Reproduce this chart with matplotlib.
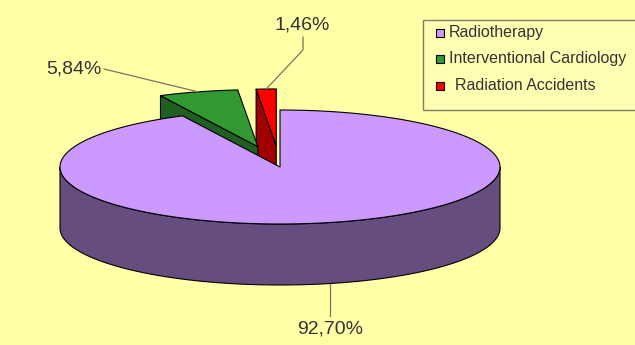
import numpy as np
import matplotlib.pyplot as plt
from matplotlib.patches import Polygon, Rectangle

# Share of each exposure source (%)
categories = ['Radiotherapy', 'Interventional Cardiology', 'Radiation Accidents']
shares = [92.70, 5.84, 1.46]
value_labels = ['92,70%', '5,84%', '1,46%']
explode = [0.0, 0.37, 0.37]

top_colors = ['#CC99FF', '#339933', '#FF0000']
side_colors = ['#664D80', '#1F5F1F', '#A00000']
bg = '#FFFFA8'
text_color = '#333333'

plt.rcParams['font.family'] = ['Liberation Sans', 'DejaVu Sans']

fig = plt.figure(figsize=(6.35, 3.45), dpi=100)
fig.patch.set_facecolor(bg)
ax = fig.add_axes([0, 0, 1, 1])
ax.set_xlim(0, 635)
ax.set_ylim(345, 0)
ax.axis('off')

# 3D pie drawn in pixel space: centre, radii of the top ellipse, thickness
cx, cy = 280, 167
rx, ry = 220, 57
depth = 61


def ellipse_xy(t_deg, off, z=0.0):
    t = np.radians(t_deg)
    return (cx + off[0] + rx * np.cos(t), cy + off[1] - ry * np.sin(t) + z)


# slice angles, clockwise from 12 o'clock
slices = []
start = 90.0
for i, s in enumerate(shares):
    a0 = start
    a1 = start - s * 3.6
    start = a1
    mid = (a0 + a1) / 2
    e = explode[i]
    off = (e * rx * np.cos(np.radians(mid)), -e * ry * np.sin(np.radians(mid)))
    slices.append(dict(i=i, a0=a0, a1=a1, mid=mid, off=off))

# paint back slices first
order = sorted(slices, key=lambda d: -np.sin(np.radians(d['mid'])))

edge_kw = dict(edgecolor='black', linewidth=0.8, joinstyle='round')

for sl in order:
    i, a0, a1, off = sl['i'], sl['a0'], sl['a1'], sl['off']
    apex = (cx + off[0], cy + off[1])

    # radial cut faces facing the viewer
    for a, normal in ((a0, a0 + 90), (a1, a1 - 90)):
        if np.sin(np.radians(normal)) < -1e-6:
            p_top = ellipse_xy(a, off)
            p_bot = ellipse_xy(a, off, depth)
            face = [apex, p_top, p_bot, (apex[0], apex[1] + depth)]
            ax.add_patch(Polygon(face, closed=True, facecolor=side_colors[i], **edge_kw))

    # outer wall, front half only
    t = np.linspace(a1, a0, 600)
    front = np.sin(np.radians(t)) <= 0
    if front.any():
        idx = np.where(front)[0]
        groups = np.split(idx, np.where(np.diff(idx) > 1)[0] + 1)
        for g in groups:
            tt = t[g]
            xs, ys = ellipse_xy(tt, off)
            xb, yb = ellipse_xy(tt[::-1], off, depth)
            wall = np.column_stack([np.concatenate([xs, xb]), np.concatenate([ys, yb])])
            ax.add_patch(Polygon(wall, closed=True, facecolor=side_colors[i], **edge_kw))

    # top face
    t = np.linspace(a1, a0, 600)
    xs, ys = ellipse_xy(t, off)
    top = np.vstack([[apex], np.column_stack([xs, ys])])
    ax.add_patch(Polygon(top, closed=True, facecolor=top_colors[i], **edge_kw))

# value labels with leader lines
line_kw = dict(color='#77775A', linewidth=0.9)
lab_font = dict(fontsize=14, color=text_color)

s0, s1, s2 = slices
# Radiotherapy: from the front bottom edge straight down
px, py = ellipse_xy(s0['mid'], s0['off'], depth)
ax.plot([px, px], [py, 316], **line_kw)
ax.text(px, 321, value_labels[0], ha='center', va='top', **lab_font)

# Interventional Cardiology: to the left
px, py = ellipse_xy(s1['mid'], s1['off'])
ax.plot([104, px], [69, py], **line_kw)
ax.text(102, 69, value_labels[1], ha='right', va='center', **lab_font)

# Radiation Accidents: above
px, py = ellipse_xy(s2['mid'], s2['off'])
ax.plot([303, 303, px], [37, 50, py], **line_kw)
ax.text(302, 25, value_labels[2], ha='center', va='center', **lab_font)

# legend box
ax.add_patch(Rectangle((423, 20), 230, 90, facecolor='#FFFFB4', edgecolor='#7F7F60', linewidth=1))
rows = [33, 59, 86]
for i, name in enumerate(categories):
    ax.add_patch(Rectangle((436, rows[i] - 4), 8, 8, facecolor=top_colors[i],
                           edgecolor='black', linewidth=0.8))
    tx = 455 if i == 2 else 449
    ax.text(tx, rows[i], name, ha='left', va='center', fontsize=11.5, color=text_color)

fig.savefig('out.png', dpi=100, facecolor=fig.get_facecolor())
